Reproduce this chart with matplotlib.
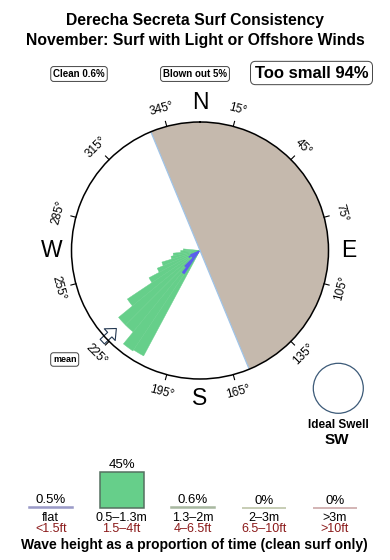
import matplotlib
matplotlib.use("Agg")
import matplotlib.pyplot as plt
from matplotlib.patches import Circle
import numpy as np

plt.rcParams["font.family"] = ["Liberation Sans", "DejaVu Sans"]

# swell rose, bins of 5.625 deg (start of bin), length in % of the rim
bin_width = 5.625
green_dirs = [208.125, 213.75, 219.375, 225.0, 230.625, 236.25, 241.875, 247.5, 253.125, 258.75, 264.375, 270.0]
green_len = [93, 94, 82, 82, 68, 45, 36, 31, 23, 21, 15, 13]
blue_dirs = [213.75, 219.375, 225.0, 230.625, 236.25, 241.875]
blue_len = [22, 17, 8, 8, 10, 8]
offshore_start = 337.5   # shaded half, clockwise 180 deg
mean_dir = 227
tick_angles = [15, 45, 75, 105, 135, 165, 195, 225, 255, 285, 315, 345]
cardinals = [("N", 0), ("E", 90), ("S", 180), ("W", 270)]

# summary boxes
summary_labels = ["Clean 0.6%", "Blown out 5%", "Too small 94%"]

# wave height bars
height_labels = ["flat", "0.5–1.3m", "1.3–2m", "2–3m", ">3m"]
height_ft = ["<1.5ft", "1.5–4ft", "4–6.5ft", "6.5–10ft", ">10ft"]
height_pct = [0.5, 45, 0.6, 0, 0]
pct_text = ["0.5%", "45%", "0.6%", "0%", "0%"]
bar_face = ["#9a9ac8", "#66cf8a", "#a8b8a0", "#b8c0a0", "#c8a0a0"]
bar_edge = ["#9a9ac8", "#557060", "#a8b8a0", "#b8c0a0", "#c8a0a0"]

green = "#66cf8a"
blue = "#5b5bf0"
sand = "#c5b9ad"
dark_red = "#8b1a1a"

fig = plt.figure(figsize=(3.9, 5.6), dpi=100)

# page axes in pixel units for the loose text
page = fig.add_axes([0, 0, 1, 1])
page.set_xlim(0, 390)
page.set_ylim(560, 0)
page.axis("off")

# ---- rose ----
cx, cy, rad = 200, 250.5, 128.5
ax = fig.add_axes([(cx - rad) / 390, (560 - cy - rad) / 560, 2 * rad / 390, 2 * rad / 560], projection="polar")
ax.set_theta_zero_location("N")
ax.set_theta_direction(-1)
ax.set_ylim(0, 100)
ax.set_xticks([])
ax.set_yticks([])
ax.grid(False)
ax.spines["polar"].set_linewidth(1.1)

ax.bar(np.radians(offshore_start), 100, width=np.radians(180), align="edge", color=sand, lw=0)
for a in [offshore_start, offshore_start + 180]:
    ax.plot([np.radians(a)] * 2, [0, 100], color="#a0c4e8", lw=0.9)

ax.bar(np.radians(green_dirs), green_len, width=np.radians(bin_width), align="edge",
       color=green, edgecolor=green, lw=0.3)
ax.bar(np.radians(blue_dirs), blue_len, width=np.radians(bin_width), align="edge",
       color=blue, edgecolor=blue, lw=0.3)

for a in tick_angles:
    t = np.radians(a)
    ax.plot([t, t], [100, 104], color="black", lw=0.8, clip_on=False)
    rot = 180 - a if 90 < a < 270 else -a
    ax.text(t, 114, f"{a}°", rotation=rot, rotation_mode="anchor", ha="center", va="center",
            fontsize=8.5)

for name, a in cardinals:
    ax.text(np.radians(a), 115.5, name, ha="center", va="center", fontsize=16.5)

ax.annotate("", xy=(np.radians(mean_dir), 89), xytext=(np.radians(mean_dir), 104),
            arrowprops=dict(arrowstyle="simple,head_length=0.65,head_width=1.15,tail_width=0.45",
                            fc="white", ec="#22364f", lw=0.8, shrinkA=0, shrinkB=0),
            annotation_clip=False, zorder=2)

# ---- text on page ----
page.text(195, 20, "Derecha Secreta Surf Consistency", ha="center", va="center", fontsize=11.3, weight="bold")
page.text(195, 41, "November: Surf with Light or Offshore Winds", ha="center", va="center", fontsize=11.3, weight="bold")

box = dict(boxstyle="round,pad=0.25,rounding_size=0.3", fc="white", ec="#444444", lw=0.7)
page.text(79, 74, summary_labels[0], ha="center", va="center", fontsize=7, weight="bold", bbox=box)
page.text(195, 74, summary_labels[1], ha="center", va="center", fontsize=7, weight="bold", bbox=box)
page.text(311.5, 73, summary_labels[2], ha="center", va="center", fontsize=12, weight="bold", bbox=box)
page.text(64.7, 359.5, "mean", ha="center", va="center", fontsize=6.5, weight="bold", bbox=box)

page.add_patch(Circle((338.3, 388.3), 25, fc="white", ec="#3c5a78", lw=0.9))
page.text(338.5, 425, "Ideal Swell", ha="center", va="center", fontsize=8.5, weight="bold")
page.text(337, 440.5, "SW", ha="center", va="center", fontsize=11, weight="bold")

page.text(194.5, 545, "Wave height as a proportion of time (clean surf only)", ha="center", va="center",
          fontsize=10, weight="bold")

# ---- wave height bars ----
step = 71
x0 = 50.7
base = 507.5
bx = fig.add_axes([0, (560 - base) / 560, 1, (base - 440) / 560])
bx.set_xlim(-x0 / step, (390 - x0) / step)
bx.set_ylim(0, (base - 440) / 0.8)
bx.axis("off")
xs = np.arange(len(height_pct))
bars = bx.bar(xs, height_pct, width=44 / step, color=bar_face, edgecolor=bar_edge, lw=1.1)
for b in bars:
    b.set_clip_on(False)
for i in xs:
    bx.annotate(pct_text[i], xy=(i, height_pct[i]), xytext=(0, 0.5), textcoords="offset points",
                ha="center", va="bottom", fontsize=9.5, annotation_clip=False)
    bx.annotate(height_labels[i], xy=(i, 0), xytext=(0, -7.6), textcoords="offset points",
                ha="center", va="center", fontsize=9, annotation_clip=False)
    bx.annotate(height_ft[i], xy=(i, 0), xytext=(0, -15.6), textcoords="offset points",
                ha="center", va="center", fontsize=9, color=dark_red, annotation_clip=False)

fig.savefig("out.png", dpi=100)
